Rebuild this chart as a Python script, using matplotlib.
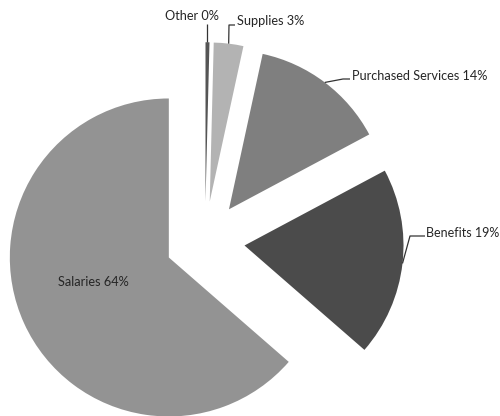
import numpy as np
import matplotlib
matplotlib.use("Agg")
import matplotlib.pyplot as plt

categories = ["Other", "Supplies", "Purchased Services", "Benefits", "Salaries"]
values = [0.4, 3.0, 13.8, 19.2, 63.6]
pct_labels = ["0%", "3%", "14%", "19%", "64%"]
colors = ["#555555", "#b3b3b3", "#7f7f7f", "#4b4b4b", "#939393"]

W, H = 500, 416
fig = plt.figure(figsize=(W / 100, H / 100), dpi=100)
ax = fig.add_axes([0, 0, 1, 1])

R = 159
wedges, _ = ax.pie(values, colors=colors, startangle=90, counterclock=False,
                   radius=R, center=(205, H - 241), explode=[0.25 * R] * 5,
                   wedgeprops=dict(linewidth=0), frame=True)
ax.set_xlim(0, W)
ax.set_ylim(0, H)
ax.set_aspect("equal")
ax.axis("off")

plt.rcParams['font.family'] = ['Lato', 'DejaVu Sans']
fs = 9.2
tcol = "#262626"
lcol = "#333333"

def anchor(w):
    mid = np.deg2rad((w.theta1 + w.theta2) / 2)
    cx, cy = w.center
    return cx + w.r * np.cos(mid), cy + w.r * np.sin(mid)

def Y(y):
    return H - y

# Layout (image pixel coords) for outside labels: elbow point, line end, text x, text y, ha, size
layout = {
    0: [None, (206, 24), 219, 16, "right", fs],
    1: [(229, 25), (235, 25), 237, 21, "left", fs],
    2: [(343, 79), (350, 79), 352, 76, "left", fs],
    3: [(410, 236), (425, 236), 426, 233, "left", 9.0],
}

for i, w in enumerate(wedges[:4]):
    ax_, ay_ = anchor(w)
    elbow, end, tx, ty, ha, s = layout[i]
    xs = [ax_]
    ys = [ay_]
    if elbow is not None:
        xs.append(elbow[0]); ys.append(Y(elbow[1]))
        xs.append(end[0]); ys.append(Y(end[1]))
    else:
        xs.append(ax_); ys.append(Y(end[1]))
    ax.plot(xs, ys, color=lcol, lw=0.9, solid_capstyle="butt")
    ax.text(tx, Y(ty), f"{categories[i]} {pct_labels[i]}", ha=ha, va="center",
            fontsize=s, color=tcol)

ax.text(93, Y(282), f"{categories[4]} {pct_labels[4]}", ha="center", va="center",
        fontsize=fs, color=tcol)

fig.savefig("out.png", dpi=100)
